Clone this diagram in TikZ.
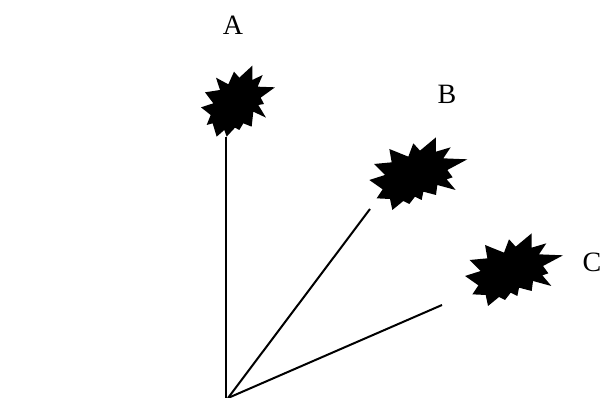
\documentclass[tikz,border=0pt]{standalone}
\usepackage{fontspec}
\setmainfont{Liberation Serif}
\tikzset{
  ray/.style={line width=2pt,black},
  burst/.style={fill=black,draw=none},
  lbl/.style={font=\fontsize{28}{32}\selectfont,inner sep=0pt,text=black}
}
\newcommand{\burstB}{(88,57) -- (145,80) -- (160,40) -- (180,62) -- (228,22) -- (228,65) -- (272,52) -- (250,85) -- (322,88) -- (262,120) -- (278,142) -- (260,148) -- (287,180) -- (232,165) -- (228,195) -- (190,185) -- (185,210) -- (165,200) -- (148,222) -- (130,213) -- (97,240) -- (90,207) -- (50,205) -- (68,178) -- (28,150) -- (75,135) -- (42,102) -- (95,97) -- cycle}
\begin{document}
\begin{tikzpicture}[x=1pt,y=-1pt]
\useasboundingbox (0,0) rectangle (606,398);
% burst A
\begin{scope}[shift={(190,55)},x=0.3333pt,y=-0.3333pt]
\fill[burst] (78,68) -- (115,88) -- (132,50) -- (148,68) -- (187,32) -- (187,75) -- (218,60) -- (203,95) -- (255,97) -- (212,128) -- (222,147) -- (205,150) -- (228,188) -- (190,170) -- (185,215) -- (160,205) -- (148,225) -- (135,218) -- (110,245) -- (103,225) -- (80,245) -- (68,205) -- (50,210) -- (62,180) -- (33,157) -- (70,145) -- (45,112) -- (90,105) -- cycle;
\end{scope}
% burst B
\begin{scope}[shift={(360,130)},x=0.3333pt,y=-0.3333pt]
\fill[burst] \burstB;
\end{scope}
% burst C
\begin{scope}[shift={(455.7,226)},x=0.3333pt,y=-0.3333pt]
\fill[burst] \burstB;
\end{scope}
\coordinate (oa) at (226,398);
\coordinate (o) at (228,398);
\coordinate (ea) at (226,137);
\coordinate (eb) at (370,209);
\coordinate (ec) at (442,305);
\draw[ray] (oa) -- (ea);
\draw[ray] (o) -- (eb);
\draw[ray] (o) -- (ec);
\node[lbl] (la) at (233,25) {A};
\node[lbl] (lb) at (447,94) {B};
\node[lbl] (lc) at (592,262) {C};
\end{tikzpicture}
\end{document}
